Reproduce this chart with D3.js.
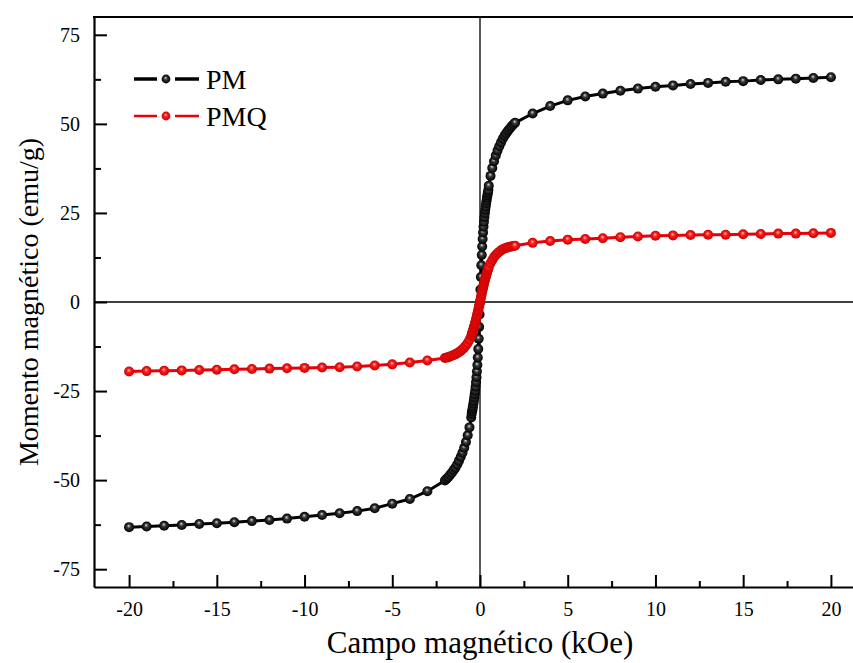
<!DOCTYPE html>
<html lang="pt">
<head>
<meta charset="utf-8">
<title>Momento magnético x Campo magnético</title>
<style>
    body { margin: 0; background: #fff; }
    svg { display: block; }
    svg text { font-family: 'Liberation Serif', 'Times New Roman', Times, serif !important; fill: #000; }
</style>
</head>
<body>
<svg id="chart" width="853" height="663"></svg>
<script src="https://d3js.org/d3.v7.min.js"></script>
<script>
// campo magnetico (kOe) - same steps for both samples
var fieldH = [-20,-19,-18,-17,-16,-15,-14,-13,-12,-11,-10,-9,-8,-7,-6,-5,-4,-3,
    -2,-1.9,-1.8,-1.7,-1.6,-1.5,-1.4,-1.3,-1.2,-1.1,-1,-0.9,-0.8,-0.7,-0.6,-0.5,
    -0.475,-0.45,-0.425,-0.4,-0.375,-0.35,-0.325,-0.3,-0.275,-0.25,-0.225,-0.2,-0.175,-0.15,-0.125,-0.1,-0.075,-0.05,-0.025,0,
    0.025,0.05,0.075,0.1,0.125,0.15,0.175,0.2,0.225,0.25,0.275,0.3,0.325,0.35,0.375,0.4,0.425,0.45,0.475,
    0.5,0.6,0.7,0.8,0.9,1,1.1,1.2,1.3,1.4,1.5,1.6,1.7,1.8,1.9,2,
    3,4,5,6,7,8,9,10,11,12,13,14,15,16,17,18,19,20];

// momento magnetico (emu/g)
var momentPM = [-63.2,-63.0,-62.8,-62.6,-62.3,-62.1,-61.8,-61.5,-61.2,-60.8,-60.3,-59.8,-59.3,-58.7,-57.9,-56.6,-55.3,-53.1,
    -50.1,-49.6,-49.1,-48.5,-47.9,-47.2,-46.5,-45.6,-44.6,-43.5,-42.3,-40.9,-39.3,-37.4,-35.2,-32.4,
    -31.4,-30.7,-30.0,-29.3,-28.5,-27.7,-26.8,-25.9,-24.9,-23.8,-22.5,-21.1,-19.5,-17.7,-15.6,-13.2,-10.3,-7.0,-3.5,0,
    3.5,7.0,10.3,13.2,15.6,17.7,19.5,21.1,22.5,23.8,24.9,25.9,26.8,27.7,28.5,29.3,30.0,30.7,31.4,
    32.6,35.4,37.6,39.5,41.1,42.5,43.7,44.8,45.8,46.7,47.4,48.1,48.7,49.3,49.8,50.3,
    52.9,55.0,56.6,57.7,58.5,59.3,59.9,60.4,60.8,61.2,61.5,61.8,62.0,62.3,62.5,62.7,62.9,63.1];

var momentPMQ = [-19.5,-19.4,-19.3,-19.2,-19.1,-19.0,-18.9,-18.8,-18.7,-18.6,-18.5,-18.4,-18.3,-18.1,-17.8,-17.5,-17.0,-16.4,
    -15.7,-15.6,-15.5,-15.3,-15.1,-14.9,-14.7,-14.4,-14.1,-13.7,-13.3,-12.8,-12.2,-11.5,-10.6,-9.6,
    -9.2,-8.8,-8.4,-8.0,-7.6,-7.2,-6.8,-6.3,-5.9,-5.4,-4.9,-4.4,-3.9,-3.4,-2.8,-2.3,-1.7,-1.1,-0.6,0,
    0.6,1.2,1.8,2.4,3.0,3.5,4.1,4.6,5.1,5.6,6.1,6.6,7.0,7.5,7.9,8.3,8.7,9.1,9.4,
    9.8,10.9,11.8,12.6,13.2,13.7,14.1,14.5,14.8,15.0,15.2,15.4,15.5,15.6,15.7,15.8,
    16.6,17.1,17.5,17.7,17.9,18.2,18.4,18.6,18.7,18.8,18.9,18.9,19.0,19.1,19.2,19.2,19.3,19.4];

var xTicks = [-20,-15,-10,-5,0,5,10,15,20];
var xMinorTicks = [-17.5,-12.5,-7.5,-2.5,2.5,7.5,12.5,17.5];
var yTicks = [-75,-50,-25,0,25,50,75];
var yMinorTicks = [-62.5,-37.5,-12.5,12.5,37.5,62.5];

var series = [
    {name: "PM", values: momentPM, color: "#000", grad: "ballBlack"},
    {name: "PMQ", values: momentPMQ, color: "#e8000b", grad: "ballRed"}
];

var svg = d3.select("#chart");

var x = d3.scaleLinear().domain([-22, 22]).range([94, 866]);
var y = d3.scaleLinear().domain([-80, 80]).range([587, 17]);

var defs = svg.append("defs");
defs.append("clipPath").attr("id", "plotClip")
    .append("rect").attr("x", 94).attr("y", 17).attr("width", 772).attr("height", 570);

function ball(id, c0, c1, c2) {
    var g = defs.append("radialGradient").attr("id", id)
        .attr("cx", "50%").attr("cy", "50%").attr("r", "50%")
        .attr("fx", "45%").attr("fy", "35%");
    g.append("stop").attr("offset", "0%").attr("stop-color", c0);
    g.append("stop").attr("offset", "40%").attr("stop-color", c1);
    g.append("stop").attr("offset", "100%").attr("stop-color", c2);
}
ball("ballBlack", "#d8d8d8", "#353535", "#000");
ball("ballRed", "#ffc4c4", "#ff1e1e", "#c80000");

// zero lines
svg.append("line").attr("x1", x(0)).attr("x2", x(0)).attr("y1", y(80)).attr("y2", y(-80))
    .attr("stroke", "#000").attr("stroke-width", 1.3);
svg.append("line").attr("x1", x(-22)).attr("x2", x(22)).attr("y1", y(0)).attr("y2", y(0))
    .attr("stroke", "#000").attr("stroke-width", 1.3);

// axes
var fmt = function(d) { return String(d); };

svg.append("g").attr("transform", "translate(0," + y(-80) + ")")
    .call(d3.axisBottom(x).tickValues(xTicks).tickSizeInner(-12).tickSizeOuter(0).tickPadding(15).tickFormat(fmt));
svg.append("g").attr("transform", "translate(0," + y(-80) + ")")
    .call(d3.axisBottom(x).tickValues(xMinorTicks).tickSizeInner(-6).tickSizeOuter(0).tickFormat(""))
    .select(".domain").remove();

svg.append("g").attr("transform", "translate(" + x(-22) + ",0)")
    .call(d3.axisLeft(y).tickValues(yTicks).tickSizeInner(-13).tickSizeOuter(0).tickPadding(14).tickFormat(fmt));
svg.append("g").attr("transform", "translate(" + x(-22) + ",0)")
    .call(d3.axisLeft(y).tickValues(yMinorTicks).tickSizeInner(-7).tickSizeOuter(0).tickFormat(""))
    .select(".domain").remove();

svg.selectAll(".tick line").attr("stroke-width", 2);
svg.selectAll(".domain").attr("stroke-width", 2.2);
svg.selectAll(".tick text").attr("font-size", 20);

// top and right border
svg.append("line").attr("x1", x(-22) - 1).attr("x2", x(22)).attr("y1", y(80)).attr("y2", y(80))
    .attr("stroke", "#000").attr("stroke-width", 2.2);
svg.append("line").attr("x1", x(22)).attr("x2", x(22)).attr("y1", y(80)).attr("y2", y(-80))
    .attr("stroke", "#000").attr("stroke-width", 2.2);

// data
var plot = svg.append("g").attr("clip-path", "url(#plotClip)");
var line = d3.line().x(function(d) { return x(d[0]); }).y(function(d) { return y(d[1]); });

series.forEach(function(s) {
    var pts = fieldH.map(function(h, i) { return [h, s.values[i]]; });
    plot.append("path").datum(pts)
        .attr("fill", "none").attr("stroke", s.color).attr("stroke-width", 3)
        .attr("d", line);
    plot.selectAll(".pt-" + s.name).data(pts).enter().append("circle")
        .attr("class", "pt-" + s.name)
        .attr("cx", function(d) { return x(d[0]); })
        .attr("cy", function(d) { return y(d[1]); })
        .attr("r", 5)
        .attr("fill", "url(#" + s.grad + ")");
});

// legend
var legend = svg.append("g");
series.forEach(function(s, i) {
    var ly = 79 + i * 37;
    legend.append("line").attr("x1", 134).attr("x2", 199).attr("y1", ly).attr("y2", ly)
        .attr("stroke", s.color).attr("stroke-width", i === 0 ? 3.4 : 2.6);
    legend.append("rect").attr("x", 157).attr("y", ly - 5).attr("width", 18).attr("height", 10).attr("fill", "#fff");
    legend.append("circle").attr("cx", 166).attr("cy", ly).attr("r", 4.4).attr("fill", "url(#" + s.grad + ")");
    legend.append("text").attr("x", 206).attr("y", ly + 10).attr("font-size", 28).text(s.name);
});

// axis titles
svg.append("text").attr("x", x(0)).attr("y", 653).attr("text-anchor", "middle")
    .attr("font-size", 31).text("Campo magnético (kOe)");
svg.append("text").attr("transform", "translate(38," + y(0) + ") rotate(-90)")
    .attr("text-anchor", "middle").attr("font-size", 28).text("Momento magnético (emu/g)");
</script>
</body>
</html>
